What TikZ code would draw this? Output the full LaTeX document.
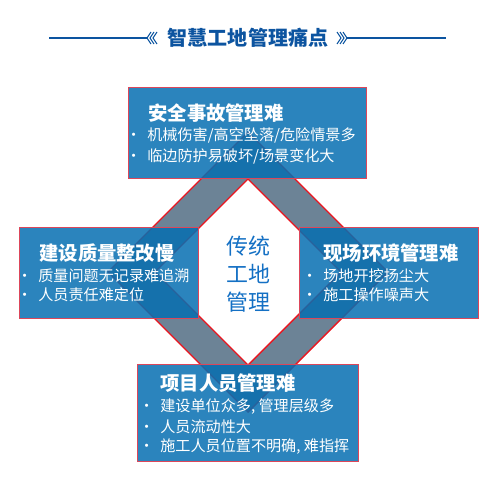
\documentclass[tikz,border=0pt]{standalone}
\usepackage{fontspec}
\setmainfont{Noto Sans CJK SC}
\usepackage{xcolor}
\usepackage{tikz}
\usetikzlibrary{positioning}
\definecolor{titleblue}{RGB}{12,84,160}
\definecolor{coreblue}{RGB}{20,112,196}
\definecolor{bandgray}{RGB}{108,131,150}
\definecolor{bandred}{RGB}{235,20,30}
\definecolor{boxblue}{RGB}{6,111,177}
\definecolor{boxedge}{RGB}{220,70,90}
\newcommand{\pt}{\llap{\textbullet\hspace{3.5pt}}}

\begin{document}
\begin{tikzpicture}[
  x=0.02cm, y=-0.02cm,
  pain/.style={draw=boxedge, line width=0.4pt, fill=boxblue, fill opacity=0.85},
  head/.style={anchor=west, inner sep=0pt, text=white, font=\fontsize{11}{13}\selectfont\bfseries},
  item/.style={anchor=west, inner sep=0pt, text=white, font=\fontsize{8.6}{10}\selectfont},
  rule/.style={draw=titleblue, line width=1.2pt},
  chev/.style={draw=titleblue, line width=0.6pt},
]
\useasboundingbox (0,0) rectangle (500,500);

% Title line
\node[inner sep=0pt, text=titleblue, font=\fontsize{11.4}{13}\selectfont\bfseries] (title) at (248,38) {智慧工地管理痛点};
\coordinate (lineL) at (49,38);
\coordinate (chevL) at (147,38);
\coordinate (chevR) at (347,38);
\coordinate (lineR) at (446,38);
\draw[rule] (lineL) -- (chevL);
\draw[rule] (chevR) -- (lineR);
\foreach \d in {0,3,6} {
  \draw[chev] (151+\d,32) -- (147+\d,38) -- (151+\d,44);
  \draw[chev] (343-\d,32) -- (347-\d,38) -- (343-\d,44);
}

% Diamond band
\fill[bandgray, even odd rule] (248,132) -- (388,272) -- (248,412) -- (108,272) -- cycle
  (248,179) -- (341,272) -- (248,365) -- (155,272) -- cycle;
\draw[bandred, line width=0.8pt] (248,132) -- (388,272) -- (248,412) -- (108,272) -- cycle;
\draw[bandred, line width=0.8pt] (248,179) -- (341,272) -- (248,365) -- (155,272) -- cycle;

% Centre
\node[align=center, text=coreblue, inner sep=0pt, font=\fontsize{12.5}{15.8}\selectfont] (core) at (248,274) {传统\\工地\\管理};

% Boxes
\node[pain, minimum width=4.76cm, minimum height=1.82cm] (safety) at (247,132.5) {};
\node[pain, minimum width=3.58cm, minimum height=1.82cm] (quality) at (108.5,272.5) {};
\node[pain, minimum width=3.58cm, minimum height=1.82cm] (site) at (388.5,272.5) {};
\node[pain, minimum width=4.42cm, minimum height=1.94cm] (staff) at (247.5,412.5) {};

% Top box text
\node[head] (safetyH) at (148,113) {安全事故管理难};
\node[item] (safetyA) at (147,135) {\pt 机械伤害/高空坠落/危险情景多};
\node[item] (safetyB) at (147,156) {\pt 临边防护易破坏/场景变化大};

% Left box text
\node[head] (qualityH) at (39,253) {建设质量整改慢};
\node[item] (qualityA) at (38,276) {\pt 质量问题无记录难追溯};
\node[item] (qualityB) at (38,295) {\pt 人员责任难定位};

% Right box text
\node[head] (siteH) at (323,253) {现场环境管理难};
\node[item] (siteA) at (323,276) {\pt 场地开挖扬尘大};
\node[item] (siteB) at (323,295) {\pt 施工操作噪声大};

% Bottom box text
\node[head] (staffH) at (160,383) {项目人员管理难};
\node[item] (staffA) at (160,407) {\pt 建设单位众多, 管理层级多};
\node[item] (staffB) at (160,427) {\pt 人员流动性大};
\node[item] (staffC) at (160,447) {\pt 施工人员位置不明确, 难指挥};

\end{tikzpicture}
\end{document}
